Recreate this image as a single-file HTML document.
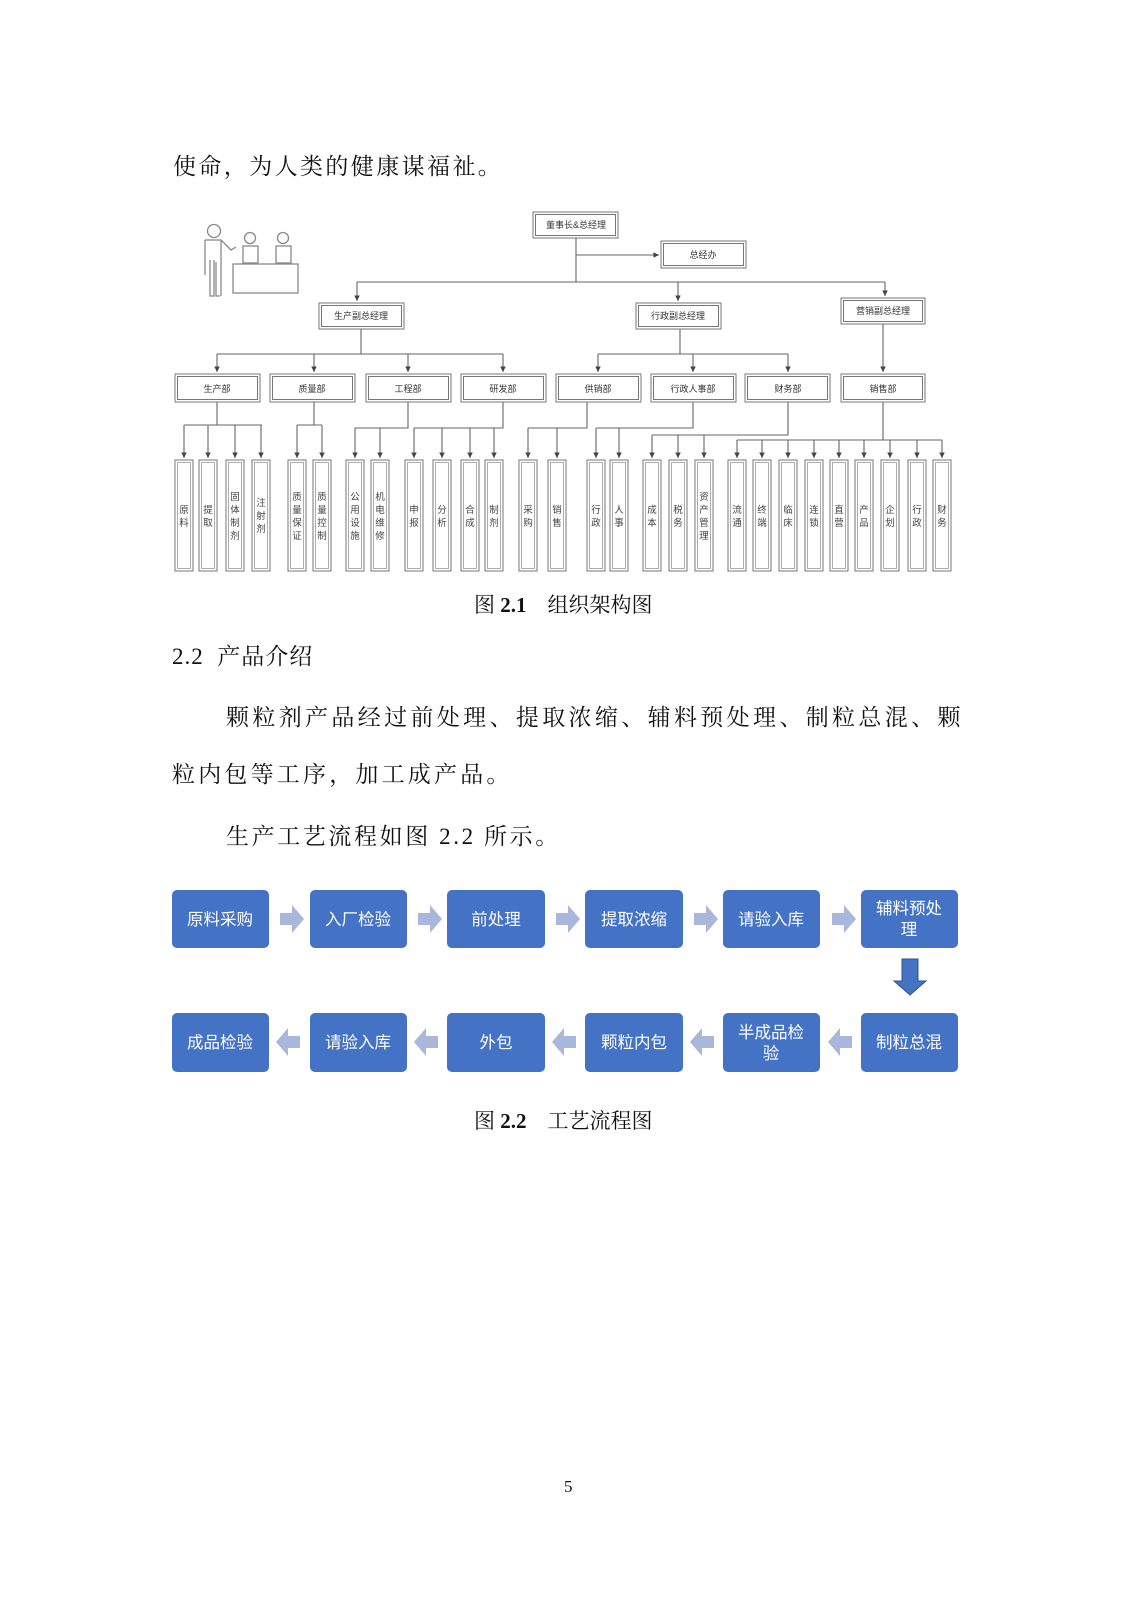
<!DOCTYPE html>
<html><head><meta charset="utf-8"><style>
body{margin:0;background:#fff;}
.pg{position:relative;width:1131px;height:1600px;overflow:hidden;font-family:"Liberation Serif","Noto Serif CJK SC",serif;color:#111;}
.t{position:absolute;white-space:nowrap;font-size:23px;line-height:1;}
</style></head><body><div class="pg">
<div class="t" style="left:173px;top:155px;letter-spacing:2.4px;">使命，为人类的健康谋福祉。</div>
<div class="t" style="left:474px;top:595px;font-size:21px;">图 <b>2.1</b>&nbsp;&nbsp;&nbsp; 组织架构图</div>
<div class="t" style="left:172px;top:645px;letter-spacing:1px;">2.2&nbsp; 产品介绍</div>
<div class="t" style="left:226px;top:706px;letter-spacing:3.35px;">颗粒剂产品经过前处理、提取浓缩、辅料预处理、制粒总混、颗</div>
<div class="t" style="left:172px;top:763px;letter-spacing:3.2px;">粒内包等工序，加工成产品。</div>
<div class="t" style="left:226px;top:825px;letter-spacing:2.6px;">生产工艺流程如图 2.2 所示。</div>
<div class="t" style="left:474px;top:1111px;font-size:21px;">图 <b>2.2</b>&nbsp;&nbsp;&nbsp; 工艺流程图</div>
<div class="t" style="left:564px;top:1478px;font-size:17px;">5</div>

<svg width="1131" height="1600" style="position:absolute;left:0;top:0" font-family="Liberation Sans,Noto Sans CJK SC,sans-serif">
<defs><marker id="a" markerWidth="6" markerHeight="6" refX="5" refY="3" orient="auto"><path d="M0,0.5 L5,3 L0,5.5z" fill="#444"/></marker></defs>
<g fill="none" stroke="#888" stroke-width="1.3">
<circle cx="214" cy="231" r="6.5"/>
<path d="M205,240 h16 l10,10 l5,-3 M205,240 v35 M221,240 v56 M210,260 v36 h4 v-36 M216,262 v34 h4"/>
<circle cx="250" cy="238" r="5.5"/><circle cx="283" cy="238" r="5.5"/>
<rect x="243" y="246" width="15" height="17"/><rect x="276" y="246" width="15" height="17"/>
<rect x="233" y="264" width="65" height="29"/>
</g>
<g fill="none" stroke="#666" stroke-width="1.1">
<path d="M576,238 V282 M357,282 H885 M361,329 V354 M217,354 H503 M680,329 V354 M598,354 H788"/>
<path d="M217,402 V425 M184,425 H262 M314,402 V425 H297 M314,425 H322 M408,402 V428 H355 M503,402 V428 H414 M587,402 V428 H528 M693,402 V428 H596 M788,402 V435 H652 M883,402 V440 M737,440 H942"/>
</g>
<g fill="none" stroke="#666" stroke-width="1.1" marker-end="url(#a)">
<path d="M576,255 H659"/>
<path d="M357,282 V301"/><path d="M678,282 V301"/><path d="M885,282 V296"/>
<path d="M883,324 V372"/>
<path d="M217,354 V372"/><path d="M314,354 V372"/><path d="M408,354 V372"/><path d="M503,354 V372"/><path d="M598,354 V372"/><path d="M693,354 V372"/><path d="M788,354 V372"/>
<path d="M184,425V458"/><path d="M208,425V458"/><path d="M235,425V458"/><path d="M261,425V458"/><path d="M297,425V458"/><path d="M322,425V458"/>
<path d="M355,428V458"/><path d="M380,428V458"/><path d="M414,428V458"/><path d="M442,428V458"/><path d="M470,428V458"/><path d="M494,428V458"/>
<path d="M528,428V458"/><path d="M557,428V458"/><path d="M596,428V458"/><path d="M619,428V458"/><path d="M652,435V458"/><path d="M678,435V458"/><path d="M704,435V458"/>
<path d="M737,440V458"/><path d="M762,440V458"/><path d="M788,440V458"/><path d="M814,440V458"/><path d="M839,440V458"/><path d="M864,440V458"/><path d="M890,440V458"/><path d="M917,440V458"/><path d="M942,440V458"/>
</g>
<g fill="#fff" stroke="#777" stroke-width="1">
<rect x="533" y="212" width="85" height="26"/><rect x="535.5" y="214.5" width="80" height="21"/>
<rect x="661" y="241" width="85" height="27"/><rect x="663.5" y="243.5" width="80" height="22"/>
<rect x="319" y="303" width="85" height="26"/><rect x="321.5" y="305.5" width="80" height="21"/>
<rect x="636" y="303" width="85" height="26"/><rect x="638.5" y="305.5" width="80" height="21"/>
<rect x="841" y="298" width="84" height="26"/><rect x="843.5" y="300.5" width="79" height="21"/>
</g>
<g font-size="9" fill="#333" text-anchor="middle">
<text x="576" y="228">董事长&amp;总经理</text><text x="703" y="258">总经办</text>
<text x="361" y="319">生产副总经理</text><text x="678" y="319">行政副总经理</text><text x="883" y="314">营销副总经理</text>
</g>
<g fill="#fff" stroke="#777" stroke-width="1">
<rect x="175" y="374" width="85" height="28"/><rect x="177.5" y="376.5" width="80" height="23"/>
<rect x="270" y="374" width="85" height="28"/><rect x="272.5" y="376.5" width="80" height="23"/>
<rect x="366" y="374" width="85" height="28"/><rect x="368.5" y="376.5" width="80" height="23"/>
<rect x="461" y="374" width="85" height="28"/><rect x="463.5" y="376.5" width="80" height="23"/>
<rect x="556" y="374" width="85" height="28"/><rect x="558.5" y="376.5" width="80" height="23"/>
<rect x="651" y="374" width="85" height="28"/><rect x="653.5" y="376.5" width="80" height="23"/>
<rect x="745" y="374" width="85" height="28"/><rect x="747.5" y="376.5" width="80" height="23"/>
<rect x="841" y="374" width="84" height="28"/><rect x="843.5" y="376.5" width="79" height="23"/>
</g>
<g font-size="9" fill="#333" text-anchor="middle">
<text x="217" y="392">生产部</text><text x="312" y="392">质量部</text><text x="408" y="392">工程部</text><text x="503" y="392">研发部</text>
<text x="598" y="392">供销部</text><text x="693" y="392">行政人事部</text><text x="788" y="392">财务部</text><text x="883" y="392">销售部</text>
</g>
<g fill="#fff" stroke="#777" stroke-width="1">
<rect x="175" y="460" width="18" height="111"/><rect x="199" y="460" width="18" height="111"/><rect x="226" y="460" width="18" height="111"/><rect x="252" y="460" width="18" height="111"/>
<rect x="288" y="460" width="18" height="111"/><rect x="313" y="460" width="18" height="111"/><rect x="346" y="460" width="18" height="111"/><rect x="371" y="460" width="18" height="111"/>
<rect x="405" y="460" width="18" height="111"/><rect x="433" y="460" width="18" height="111"/><rect x="461" y="460" width="18" height="111"/><rect x="485" y="460" width="18" height="111"/>
<rect x="519" y="460" width="18" height="111"/><rect x="548" y="460" width="18" height="111"/><rect x="587" y="460" width="18" height="111"/><rect x="610" y="460" width="18" height="111"/>
<rect x="643" y="460" width="18" height="111"/><rect x="669" y="460" width="18" height="111"/><rect x="695" y="460" width="18" height="111"/><rect x="728" y="460" width="18" height="111"/>
<rect x="753" y="460" width="18" height="111"/><rect x="779" y="460" width="18" height="111"/><rect x="805" y="460" width="18" height="111"/><rect x="830" y="460" width="18" height="111"/>
<rect x="855" y="460" width="18" height="111"/><rect x="881" y="460" width="18" height="111"/><rect x="908" y="460" width="18" height="111"/><rect x="933" y="460" width="18" height="111"/>
</g>
<g fill="none" stroke="#999" stroke-width="0.8">
<rect x="177.5" y="462.5" width="13" height="106"/><rect x="201.5" y="462.5" width="13" height="106"/><rect x="228.5" y="462.5" width="13" height="106"/><rect x="254.5" y="462.5" width="13" height="106"/>
<rect x="290.5" y="462.5" width="13" height="106"/><rect x="315.5" y="462.5" width="13" height="106"/><rect x="348.5" y="462.5" width="13" height="106"/><rect x="373.5" y="462.5" width="13" height="106"/>
<rect x="407.5" y="462.5" width="13" height="106"/><rect x="435.5" y="462.5" width="13" height="106"/><rect x="463.5" y="462.5" width="13" height="106"/><rect x="487.5" y="462.5" width="13" height="106"/>
<rect x="521.5" y="462.5" width="13" height="106"/><rect x="550.5" y="462.5" width="13" height="106"/><rect x="589.5" y="462.5" width="13" height="106"/><rect x="612.5" y="462.5" width="13" height="106"/>
<rect x="645.5" y="462.5" width="13" height="106"/><rect x="671.5" y="462.5" width="13" height="106"/><rect x="697.5" y="462.5" width="13" height="106"/><rect x="730.5" y="462.5" width="13" height="106"/>
<rect x="755.5" y="462.5" width="13" height="106"/><rect x="781.5" y="462.5" width="13" height="106"/><rect x="807.5" y="462.5" width="13" height="106"/><rect x="832.5" y="462.5" width="13" height="106"/>
<rect x="857.5" y="462.5" width="13" height="106"/><rect x="883.5" y="462.5" width="13" height="106"/><rect x="910.5" y="462.5" width="13" height="106"/><rect x="935.5" y="462.5" width="13" height="106"/>
</g>
<g font-size="9.5" fill="#444" text-anchor="middle">
<text x="184" y="513">原</text><text x="184" y="526">料</text>
<text x="208" y="513">提</text><text x="208" y="526">取</text>
<text x="235" y="500">固</text><text x="235" y="513">体</text><text x="235" y="526">制</text><text x="235" y="539">剂</text>
<text x="261" y="506">注</text><text x="261" y="519">射</text><text x="261" y="532">剂</text>
<text x="297" y="500">质</text><text x="297" y="513">量</text><text x="297" y="526">保</text><text x="297" y="539">证</text>
<text x="322" y="500">质</text><text x="322" y="513">量</text><text x="322" y="526">控</text><text x="322" y="539">制</text>
<text x="355" y="500">公</text><text x="355" y="513">用</text><text x="355" y="526">设</text><text x="355" y="539">施</text>
<text x="380" y="500">机</text><text x="380" y="513">电</text><text x="380" y="526">维</text><text x="380" y="539">修</text>
<text x="414" y="513">申</text><text x="414" y="526">报</text>
<text x="442" y="513">分</text><text x="442" y="526">析</text>
<text x="470" y="513">合</text><text x="470" y="526">成</text>
<text x="494" y="513">制</text><text x="494" y="526">剂</text>
<text x="528" y="513">采</text><text x="528" y="526">购</text>
<text x="557" y="513">销</text><text x="557" y="526">售</text>
<text x="596" y="513">行</text><text x="596" y="526">政</text>
<text x="619" y="513">人</text><text x="619" y="526">事</text>
<text x="652" y="513">成</text><text x="652" y="526">本</text>
<text x="678" y="513">税</text><text x="678" y="526">务</text>
<text x="704" y="500">资</text><text x="704" y="513">产</text><text x="704" y="526">管</text><text x="704" y="539">理</text>
<text x="737" y="513">流</text><text x="737" y="526">通</text>
<text x="762" y="513">终</text><text x="762" y="526">端</text>
<text x="788" y="513">临</text><text x="788" y="526">床</text>
<text x="814" y="513">连</text><text x="814" y="526">锁</text>
<text x="839" y="513">直</text><text x="839" y="526">营</text>
<text x="864" y="513">产</text><text x="864" y="526">品</text>
<text x="890" y="513">企</text><text x="890" y="526">划</text>
<text x="917" y="513">行</text><text x="917" y="526">政</text>
<text x="942" y="513">财</text><text x="942" y="526">务</text>
</g>

<g fill="#4472c4">
<rect x="172" y="890" width="97" height="58" rx="5"/><rect x="310" y="890" width="97" height="58" rx="5"/><rect x="447" y="890" width="98" height="58" rx="5"/>
<rect x="585" y="890" width="98" height="58" rx="5"/><rect x="723" y="890" width="97" height="58" rx="5"/><rect x="861" y="890" width="97" height="58" rx="5"/>
<rect x="172" y="1013" width="97" height="59" rx="5"/><rect x="310" y="1013" width="97" height="59" rx="5"/><rect x="447" y="1013" width="98" height="59" rx="5"/>
<rect x="585" y="1013" width="98" height="59" rx="5"/><rect x="723" y="1013" width="97" height="59" rx="5"/><rect x="861" y="1013" width="97" height="59" rx="5"/>
<path d="M902,959 h16 v22 h8 l-16,14 l-16,-14 h8z" stroke="#2f528f" stroke-width="1"/>
</g>
<g fill="#a9b7dc">
<path d="M280,913 h12 v-8 l12,14 l-12,14 v-8 h-12z"/>
<path d="M418,913 h12 v-8 l12,14 l-12,14 v-8 h-12z"/>
<path d="M556,913 h12 v-8 l12,14 l-12,14 v-8 h-12z"/>
<path d="M694,913 h12 v-8 l12,14 l-12,14 v-8 h-12z"/>
<path d="M832,913 h12 v-8 l12,14 l-12,14 v-8 h-12z"/>
<path d="M300,1036 h-12 v-8 l-12,14 l12,14 v-8 h12z"/>
<path d="M438,1036 h-12 v-8 l-12,14 l12,14 v-8 h12z"/>
<path d="M576,1036 h-12 v-8 l-12,14 l12,14 v-8 h12z"/>
<path d="M714,1036 h-12 v-8 l-12,14 l12,14 v-8 h12z"/>
<path d="M852,1036 h-12 v-8 l-12,14 l12,14 v-8 h12z"/>
</g>
<g fill="#fff" font-size="16.5" text-anchor="middle">
<text x="220" y="925">原料采购</text><text x="358" y="925">入厂检验</text><text x="496" y="925">前处理</text>
<text x="634" y="925">提取浓缩</text><text x="771" y="925">请验入库</text><text x="909" y="914">辅料预处</text><text x="909" y="935">理</text>
<text x="220" y="1048">成品检验</text><text x="358" y="1048">请验入库</text><text x="496" y="1048">外包</text>
<text x="634" y="1048">颗粒内包</text><text x="771" y="1038">半成品检</text><text x="771" y="1059">验</text><text x="909" y="1048">制粒总混</text>
</g>
</svg>
</div></body></html>
